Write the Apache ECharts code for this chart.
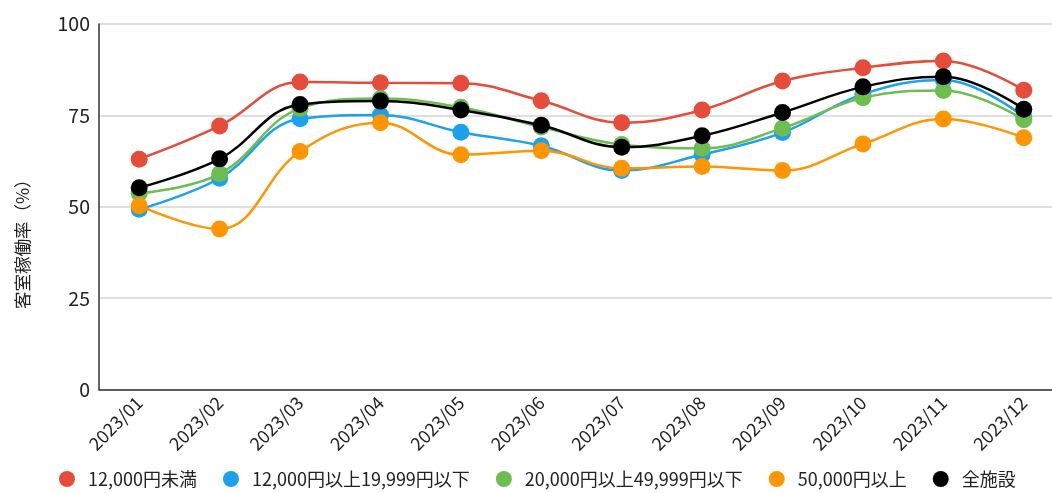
<!DOCTYPE html>
<html>
<head>
<meta charset="utf-8">
<script src="https://cdn.jsdelivr.net/npm/echarts@6/dist/echarts.min.js"></script>
<style>
html,body{margin:0;padding:0;background:#fff;overflow:hidden;}
#chart{width:1052px;height:493px;}
</style>
</head>
<body>
<div id="chart"></div>
<script>
const categories = ['2023/01','2023/02','2023/03','2023/04','2023/05','2023/06','2023/07','2023/08','2023/09','2023/10','2023/11','2023/12'];
const seriesNames = ['12,000円未満','12,000円以上19,999円以下','20,000円以上49,999円以下','50,000円以上','全施設'];
const under12k   = [63.0, 72.1, 84.1, 83.9, 83.8, 79.0, 73.0, 76.5, 84.4, 88.0, 89.9, 81.9];
const r12kto20k  = [49.3, 57.8, 74.1, 75.1, 70.4, 66.7, 59.9, 64.3, 70.3, 80.8, 84.7, 74.6];
const r20kto50k  = [53.7, 59.0, 76.9, 79.6, 77.2, 71.8, 67.0, 66.0, 71.5, 79.8, 81.8, 73.8];
const over50k    = [50.3, 43.9, 65.1, 73.0, 64.2, 65.3, 60.5, 61.0, 59.9, 67.2, 74.0, 68.9];
const allFacilities = [55.2, 63.1, 78.0, 78.9, 76.5, 72.3, 66.3, 69.4, 75.8, 82.8, 85.6, 76.7];
const yTicks = {min: 0, max: 100, interval: 25};

const colors = ['#e64c3a', '#1ba1f0', '#6dbd51', '#ff9500', '#000000'];
const dataSets = [under12k, r12kto20k, r20kto50k, over50k, allFacilities];
const FONT = '"Noto Sans CJK JP", "Noto Sans", sans-serif';

const chart = echarts.init(document.getElementById('chart'));
chart.setOption({
  animation: false,
  color: colors,
  textStyle: {fontFamily: FONT},
  grid: {left: 99, width: 965, top: 24, bottom: 103.5, containLabel: false, outerBoundsMode: 'none'},
  legend: {
    bottom: 0,
    left: 54,
    itemWidth: 16, itemHeight: 16,
    itemGap: 26,
    icon: 'circle',
    textStyle: {fontSize: 18, color: '#222', fontFamily: FONT, padding: [0, 0, 0, 8]},
    data: seriesNames
  },
  xAxis: {
    type: 'category',
    data: categories,
    boundaryGap: true,
    axisLine: {lineStyle: {color: '#333', width: 1.5}},
    axisTick: {show: false},
    axisLabel: {rotate: 45, fontSize: 18, color: '#222', margin: 10, fontFamily: FONT}
  },
  yAxis: {
    type: 'value',
    min: yTicks.min, max: yTicks.max, interval: yTicks.interval,
    name: '客室稼働率（%）',
    nameLocation: 'middle',
    nameGap: 68,
    nameRotate: 90,
    nameTextStyle: {fontSize: 17.5, color: '#222', padding: [0, 66, 0, 0], fontFamily: FONT},
    axisLine: {show: true, lineStyle: {color: '#333', width: 1.5}},
    axisTick: {show: false},
    axisLabel: {fontSize: 19.5, color: '#222', margin: 9, fontFamily: FONT},
    splitLine: {lineStyle: {color: '#d4d4d4', width: 1.5}}
  },
  series: seriesNames.map((n, i) => ({
    name: n,
    type: 'line',
    data: dataSets[i],
    smooth: 0.4,
    symbol: 'circle',
    symbolSize: 17,
    lineStyle: {width: 2.5, color: colors[i]},
    itemStyle: {color: colors[i]},
    z: 2 + i
  }))
});
</script>
</body>
</html>
